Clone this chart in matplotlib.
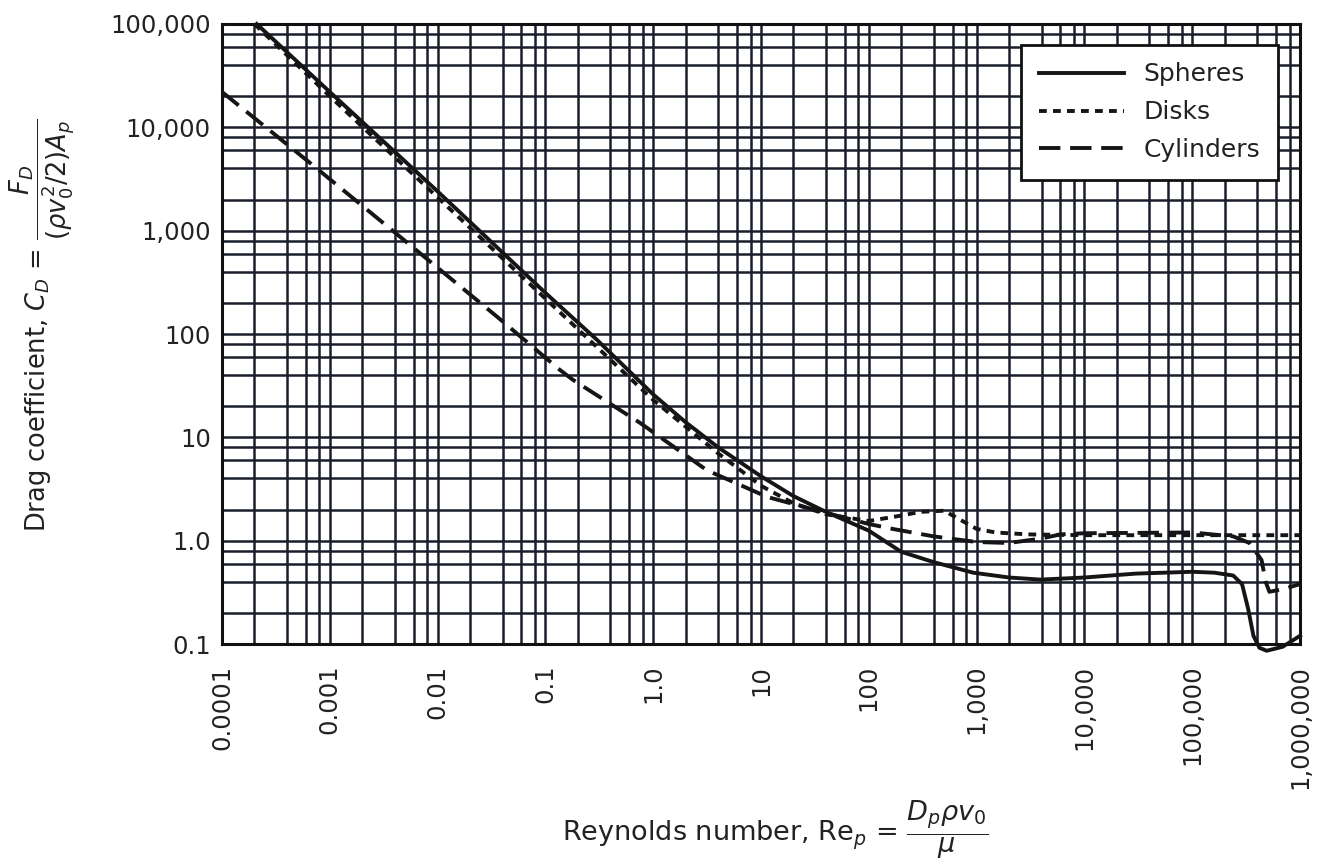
import matplotlib
matplotlib.use("Agg")
import matplotlib.pyplot as plt
from matplotlib.ticker import LogLocator, FixedLocator, FixedFormatter, NullFormatter

# ---- data ----
sphere_re = [2.1e-4, 1e-3, 1e-2, 0.1, 0.3, 1.0, 2.0, 4.0, 10, 20, 40, 100, 200, 400,
             930, 2000, 3900, 1e4, 3e4, 1e5, 1.6e5, 2.4e5, 2.9e5, 3.3e5, 3.7e5, 4.2e5,
             4.9e5, 6.9e5, 1e6]
sphere_cd = [1.0e5, 2.2e4, 2.4e3, 2.5e2, 88, 26, 14, 8.0, 4.2, 2.7, 1.9, 1.25, 0.78, 0.62,
             0.49, 0.44, 0.42, 0.44, 0.48, 0.50, 0.49, 0.46, 0.38, 0.22, 0.12, 0.092,
             0.086, 0.094, 0.12]

disk_re = [2.0e-4, 1e-3, 1e-2, 0.1, 1.0, 4.0, 10, 20, 40, 100, 200, 300, 500, 700,
           1000, 1500, 3000, 1e4, 1e5, 1e6]
disk_cd = [1.0e5, 2.0e4, 2.1e3, 2.2e2, 23, 7.0, 3.4, 2.3, 1.8, 1.55, 1.75, 1.9, 1.95, 1.6,
           1.3, 1.2, 1.15, 1.13, 1.13, 1.13]

cyl_re = [1e-4, 6.6e-4, 4.5e-3, 0.0356, 0.136, 0.18, 0.755, 3.15, 11.4, 40.7, 100, 166,
          400, 1000, 2000, 4000, 6000, 1e4, 1e5, 2.4e5, 3.4e5, 4.4e5, 4.8e5, 5.2e5, 7e5, 1e6]
cyl_cd = [2.2e4, 4500, 870, 147, 45, 36, 13.8, 4.8, 2.65, 1.85, 1.45, 1.3,
          1.1, 0.97, 0.95, 1.05, 1.15, 1.18, 1.2, 1.1, 0.95, 0.65, 0.40, 0.32, 0.34, 0.38]

x_ticks = [1e-4, 1e-3, 1e-2, 1e-1, 1, 10, 100, 1e3, 1e4, 1e5, 1e6]
x_labels = ['0.0001', '0.001', '0.01', '0.1', '1.0', '10', '100', '1,000', '10,000',
            '100,000', '1,000,000']
y_ticks = [0.1, 1, 10, 100, 1e3, 1e4, 1e5]
y_labels = ['0.1', '1.0', '10', '100', '1,000', '10,000', '100,000']

legend_labels = ['Spheres', 'Disks', 'Cylinders']

# ---- figure ----
W, H = 1338, 866
fig = plt.figure(figsize=(W / 100, H / 100), dpi=100)
ax = fig.add_axes([222 / W, 1 - 644 / H, (1300 - 222) / W, (644 - 24) / H])

ax.set_xscale('log')
ax.set_yscale('log')
ax.set_xlim(1e-4, 1e6)
ax.set_ylim(0.1, 1e5)

gridc = '#1b1f2c'
txtc = '#222222'
ax.xaxis.set_major_locator(FixedLocator(x_ticks))
ax.xaxis.set_major_formatter(FixedFormatter(x_labels))
ax.yaxis.set_major_locator(FixedLocator(y_ticks))
ax.yaxis.set_major_formatter(FixedFormatter(y_labels))
ax.xaxis.set_minor_locator(LogLocator(base=10, subs=[2, 4, 6, 8], numticks=50))
ax.yaxis.set_minor_locator(LogLocator(base=10, subs=[2, 4, 6, 8], numticks=50))
ax.xaxis.set_minor_formatter(NullFormatter())
ax.yaxis.set_minor_formatter(NullFormatter())
ax.grid(True, which='both', color=gridc, linewidth=1.8)
ax.set_axisbelow(True)
ax.tick_params(which='both', length=0)
ax.tick_params(axis='y', pad=8, labelsize=17.5, labelcolor=txtc)
ax.tick_params(axis='x', pad=15, labelsize=17.5, labelcolor=txtc)
for lbl in ax.get_xticklabels():
    lbl.set_rotation(90)
    lbl.set_va('top')
    lbl.set_ha('center')
for s in ax.spines.values():
    s.set_color('#111111')
    s.set_linewidth(2.2)

lc = '#151515'
ax.plot(sphere_re, sphere_cd, color=lc, lw=2.8, ls='-', label=legend_labels[0],
        clip_on=False, zorder=4)
ax.plot(disk_re, disk_cd, color=lc, lw=2.8, ls=(0, (2.0, 1.6)), label=legend_labels[1], zorder=3)
ax.plot(cyl_re, cyl_cd, color=lc, lw=2.8, ls=(0, (5.5, 2.5)), label=legend_labels[2], zorder=3)

leg = ax.legend(loc='upper right', bbox_to_anchor=((1278 - 222) / 1078, (644 - 45) / 620),
                borderaxespad=0, fontsize=18, handlelength=3.4, labelspacing=0.55,
                handletextpad=0.8, borderpad=0.7, fancybox=False, framealpha=1,
                edgecolor='#111111')
leg.get_frame().set_linewidth(2.0)
leg.set_zorder(6)
for t in leg.get_texts():
    t.set_color(txtc)

fig.text(775 / W, 1 - 830 / H,
         r'Reynolds number, Re$_p$ = $\dfrac{D_p \rho v_0}{\mu}$',
         ha='center', va='center', fontsize=19.5, color=txtc)
fig.text(42 / W, 1 - 325 / H,
         r'Drag coefficient, $C_D$ = $\dfrac{F_D}{(\rho v_0^2/2)A_p}$',
         ha='center', va='center', rotation=90, fontsize=18.5, color=txtc)

fig.savefig('out.png', dpi=100, facecolor='white')
